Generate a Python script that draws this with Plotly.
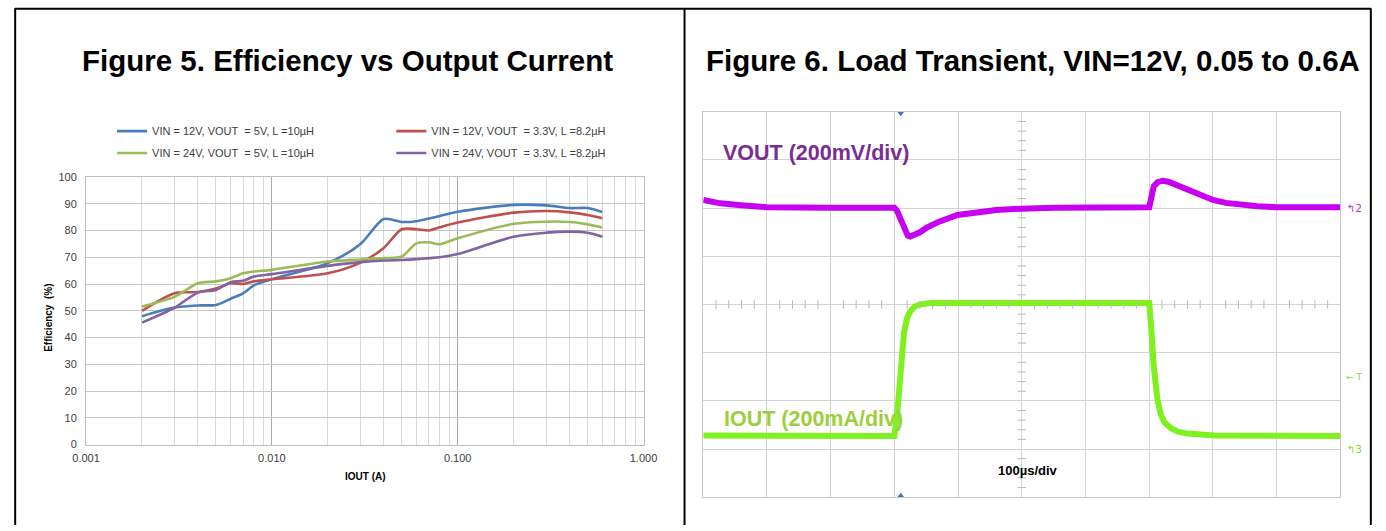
import plotly.graph_objects as go
import numpy as np

W, H = 1386, 531
# the photographed page shows up scaled ~0.979 about its centre; positions below are
# given in picture pixels and converted back to page pixels
S, OX, OY = 0.979, 14.0, 5.7

# ---------------- Figure 5 data ----------------
iout_a = [0.002, 0.003, 0.004, 0.005, 0.006, 0.007, 0.008, 0.01, 0.02, 0.03, 0.04,
          0.05, 0.06, 0.07, 0.08, 0.1, 0.2, 0.3, 0.4, 0.5, 0.6]
eff_12v_5v = [48.0, 51.2, 52.0, 52.2, 54.5, 56.5, 59.5, 61.8, 67.8, 75.0, 84.3,
              83.2, 83.5, 84.5, 85.4, 87.0, 89.6, 89.4, 88.4, 88.4, 86.9]
eff_12v_33v = [50.0, 56.6, 57.0, 58.3, 60.3, 60.0, 61.0, 61.8, 64.0, 68.0, 73.5,
               80.5, 80.5, 80.0, 81.2, 83.0, 86.7, 87.3, 86.8, 85.8, 84.6]
eff_24v_5v = [51.6, 55.3, 60.3, 61.0, 62.2, 64.0, 64.7, 65.3, 68.4, 69.2, 69.7,
              70.3, 75.2, 75.6, 74.9, 77.1, 82.5, 83.3, 83.2, 82.3, 81.1]
eff_24v_33v = [45.6, 51.2, 56.8, 57.8, 60.7, 61.2, 62.8, 63.7, 66.8, 68.2, 68.8,
               69.0, 69.3, 69.7, 70.0, 71.2, 77.7, 79.2, 79.6, 79.2, 77.7]
series_names = ["VIN = 12V, VOUT\u00a0 = 5V, L =10µH",
                "VIN = 12V, VOUT\u00a0 = 3.3V, L =8.2µH",
                "VIN = 24V, VOUT\u00a0 = 5V, L =10µH",
                "VIN = 24V, VOUT\u00a0 = 3.3V, L =8.2µH"]
series_colors = ["#4a7ebb", "#c0504d", "#9bbb59", "#8064a2"]
x_tickvals = [0.001, 0.01, 0.1, 1.0]
x_ticktext = ["0.001", "0.010", "0.100", "1.000"]

# ---------------- Figure 6 data (scope divisions) ----------------
vout_t_div = [0, 0.27, 0.59, 1.0, 2.0, 3.0, 3.04, 3.1, 3.16, 3.21, 3.25, 3.3, 3.4, 3.5,
              3.7, 3.99, 4.3, 4.6, 5.0, 5.5, 7.0, 7.03, 7.07, 7.13, 7.21, 7.3, 7.45,
              7.6, 7.8, 8.0, 8.2, 8.4, 8.7, 9.0, 10.0]
vout_div = [6.17, 6.10, 6.06, 6.02, 6.01, 6.01, 5.95, 5.75, 5.55, 5.43, 5.41, 5.43, 5.5, 5.59,
            5.72, 5.86, 5.92, 5.96, 5.99, 6.01, 6.02, 6.25, 6.45, 6.54, 6.57, 6.55, 6.47,
            6.38, 6.27, 6.17, 6.11, 6.07, 6.04, 6.02, 6.02]
iout_t_div = [0, 1, 2, 3.0, 3.05, 3.10, 3.15, 3.2, 3.25, 3.32, 3.4, 3.57, 5.0, 7.0, 7.03,
              7.07, 7.13, 7.18, 7.24, 7.34, 7.45, 7.6, 8.02, 9.0, 10.0]
iout_div = [1.28, 1.28, 1.28, 1.27, 1.82, 2.72, 3.41, 3.72, 3.86, 3.96, 4.0, 4.03, 4.03,
            4.03, 3.54, 2.72, 2.02, 1.72, 1.55, 1.43, 1.36, 1.32, 1.28, 1.27, 1.27]
trigger_t_div = 3.1


def px(x):
    return ((x - OX) / S) / W


def py(y):
    return 1 - ((y - OY) / S) / H


fig = go.Figure()

series = [eff_12v_5v, eff_12v_33v, eff_24v_5v, eff_24v_33v]
legends = ["legend", "legend2", "legend3", "legend4"]
for name, vals, col, lg in zip(series_names, series, series_colors, legends):
    fig.add_trace(go.Scatter(x=iout_a, y=vals, mode="lines", name=name,
                             line=dict(color=col, width=2.6, shape="spline", smoothing=0.8),
                             legend=lg, xaxis="x", yaxis="y", hoverinfo="skip"))

# scope traces
fig.add_trace(go.Scatter(x=vout_t_div, y=vout_div, mode="lines", showlegend=False,
                         line=dict(color="#c800f0", width=6),
                         xaxis="x2", yaxis="y2", hoverinfo="skip"))
fig.add_trace(go.Scatter(x=iout_t_div, y=iout_div, mode="lines", showlegend=False,
                         line=dict(color="#80f020", width=6),
                         xaxis="x2", yaxis="y2", hoverinfo="skip"))

# center-line minor ticks of the scope graticule
hx = [v for v in np.arange(0, 10.001, 0.2) if abs(v - round(v)) > 1e-6]
vy = [v for v in np.arange(0, 8.001, 0.2) if abs(v - round(v)) > 1e-6]
fig.add_trace(go.Scatter(x=hx, y=[4] * len(hx), mode="markers", showlegend=False,
                         marker=dict(symbol="line-ns", size=6, line=dict(color="#b8b8b8", width=1)),
                         xaxis="x2", yaxis="y2", hoverinfo="skip"))
fig.add_trace(go.Scatter(x=[5] * len(vy), y=vy, mode="markers", showlegend=False,
                         marker=dict(symbol="line-ew", size=6, line=dict(color="#b8b8b8", width=1)),
                         xaxis="x2", yaxis="y2", hoverinfo="skip"))
# trigger markers
fig.add_trace(go.Scatter(x=[trigger_t_div, trigger_t_div], y=[7.97, 0.03], mode="markers",
                         showlegend=False, cliponaxis=False,
                         marker=dict(symbol=["triangle-down", "triangle-up"], size=6, color="#3a78c8"),
                         xaxis="x2", yaxis="y2", hoverinfo="skip"))

minor_vals = [m * 10.0 ** e for e in (-3, -2, -1) for m in range(2, 10)]

leg_font = dict(family="Liberation Sans, Arial", size=11, color="#404040")
leg_common = dict(orientation="v", xanchor="left", yanchor="middle", bgcolor="rgba(0,0,0,0)",
                  font=leg_font, itemwidth=30, borderwidth=0)

fig.update_layout(
    width=W, height=H, margin=dict(l=0, r=0, t=0, b=0),
    paper_bgcolor="white", plot_bgcolor="white",
    font=dict(family="Liberation Sans, Arial", color="#404040"),
    xaxis=dict(type="log", domain=[px(86), px(643)], range=[-3, 0], anchor="y",
               tickmode="array", tickvals=x_tickvals, ticktext=x_ticktext,
               showgrid=True, gridcolor="#a8a8a8", gridwidth=1,
               minor=dict(tickmode="array", tickvals=minor_vals, showgrid=True,
                          gridcolor="#dadada", gridwidth=1),
               showline=True, linecolor="#bfbfbf", mirror=True, zeroline=False,
               ticks="", ticklabelstandoff=3, tickfont=dict(size=11, color="#404040")),
    yaxis=dict(domain=[py(445), py(177)], range=[0, 100], dtick=10, anchor="x",
               showgrid=True, gridcolor="#c6c6c6", showline=True, linecolor="#bfbfbf",
               mirror=True, zeroline=False, ticks="", ticklabelstandoff=6,
               tickfont=dict(size=11, color="#404040")),
    xaxis2=dict(domain=[px(702.7), px(1339.3)], range=[0, 10], dtick=1, anchor="y2",
                showgrid=True, gridcolor="#d4d4d4", showline=True, linecolor="#c8c8c8",
                mirror=True, zeroline=False, showticklabels=False, ticks=""),
    yaxis2=dict(domain=[py(497.7), py(111.7)], range=[0, 8], dtick=1, anchor="x2",
                showgrid=True, gridcolor="#d4d4d4", showline=True, linecolor="#c8c8c8",
                mirror=True, zeroline=False, showticklabels=False, ticks=""),
    legend=dict(x=px(112), y=py(131), **leg_common),
    legend2=dict(x=px(391), y=py(131), **leg_common),
    legend3=dict(x=px(112), y=py(153), **leg_common),
    legend4=dict(x=px(391), y=py(153), **leg_common),
)

ann = []
ann.append(dict(text="<b>Figure 5. Efficiency vs Output Current</b>", x=px(347), y=py(60),
                font=dict(size=29.5, color="black", family="Liberation Sans, Arial")))
ann.append(dict(text="<b>Figure 6. Load Transient, VIN=12V, 0.05 to 0.6A</b>", x=px(1032), y=py(60),
                font=dict(size=29.5, color="black", family="Liberation Sans, Arial")))
ann.append(dict(text="<b>Efficiency  (%)</b>", x=px(49), y=py(318), textangle=-90,
                font=dict(size=10, color="black")))
ann.append(dict(text="<b>IOUT (A)</b>", x=px(365), y=py(477), font=dict(size=10, color="black")))
ann.append(dict(text="<b>VOUT (200mV/div)</b>", x=px(720), y=py(153), xanchor="left",
                font=dict(size=21.5, color="#7b2c93", family="Liberation Sans, Arial")))
ann.append(dict(text="<b>IOUT (200mA/div)</b>", x=px(721), y=py(419), xanchor="left",
                font=dict(size=21.5, color="#9ccf3c", family="Liberation Sans, Arial")))
ann.append(dict(text="<b>100µs/div</b>", x=px(1027), y=py(471),
                font=dict(size=13, color="black", family="Liberation Sans, Arial")))
ann.append(dict(text="↰2", x=px(1344), y=py(209), xanchor="left",
                font=dict(size=10, color="#b030d0", family="DejaVu Sans")))
ann.append(dict(text="← T", x=px(1343), y=py(377), xanchor="left",
                font=dict(size=9, color="#80dd20", family="DejaVu Sans")))
ann.append(dict(text="↰3", x=px(1344), y=py(450), xanchor="left",
                font=dict(size=10, color="#80dd20", family="DejaVu Sans")))
for a in ann:
    a.setdefault("xref", "paper")
    a.setdefault("yref", "paper")
    a.setdefault("showarrow", False)
    a.setdefault("xanchor", "center")
    a.setdefault("yanchor", "middle")
fig.update_layout(annotations=ann)

# outer table borders (kept inside the visible page area)
lc = dict(color="black", width=2)
shapes = [
    dict(type="line", x0=1 / W, x1=1385 / W, y0=py(8.5), y1=py(8.5), line=lc),
    dict(type="line", x0=1.2 / W, x1=1.2 / W, y0=py(8), y1=0, line=lc),
    dict(type="line", x0=px(684), x1=px(684), y0=py(8), y1=0, line=lc),
    dict(type="line", x0=1384.8 / W, x1=1384.8 / W, y0=py(8), y1=0, line=lc),
]
for s in shapes:
    s["xref"] = "paper"
    s["yref"] = "paper"
fig.update_layout(shapes=shapes)

fig.write_html("out.html", config={"displayModeBar": False},
               post_script="document.body.style.margin='0px';")
